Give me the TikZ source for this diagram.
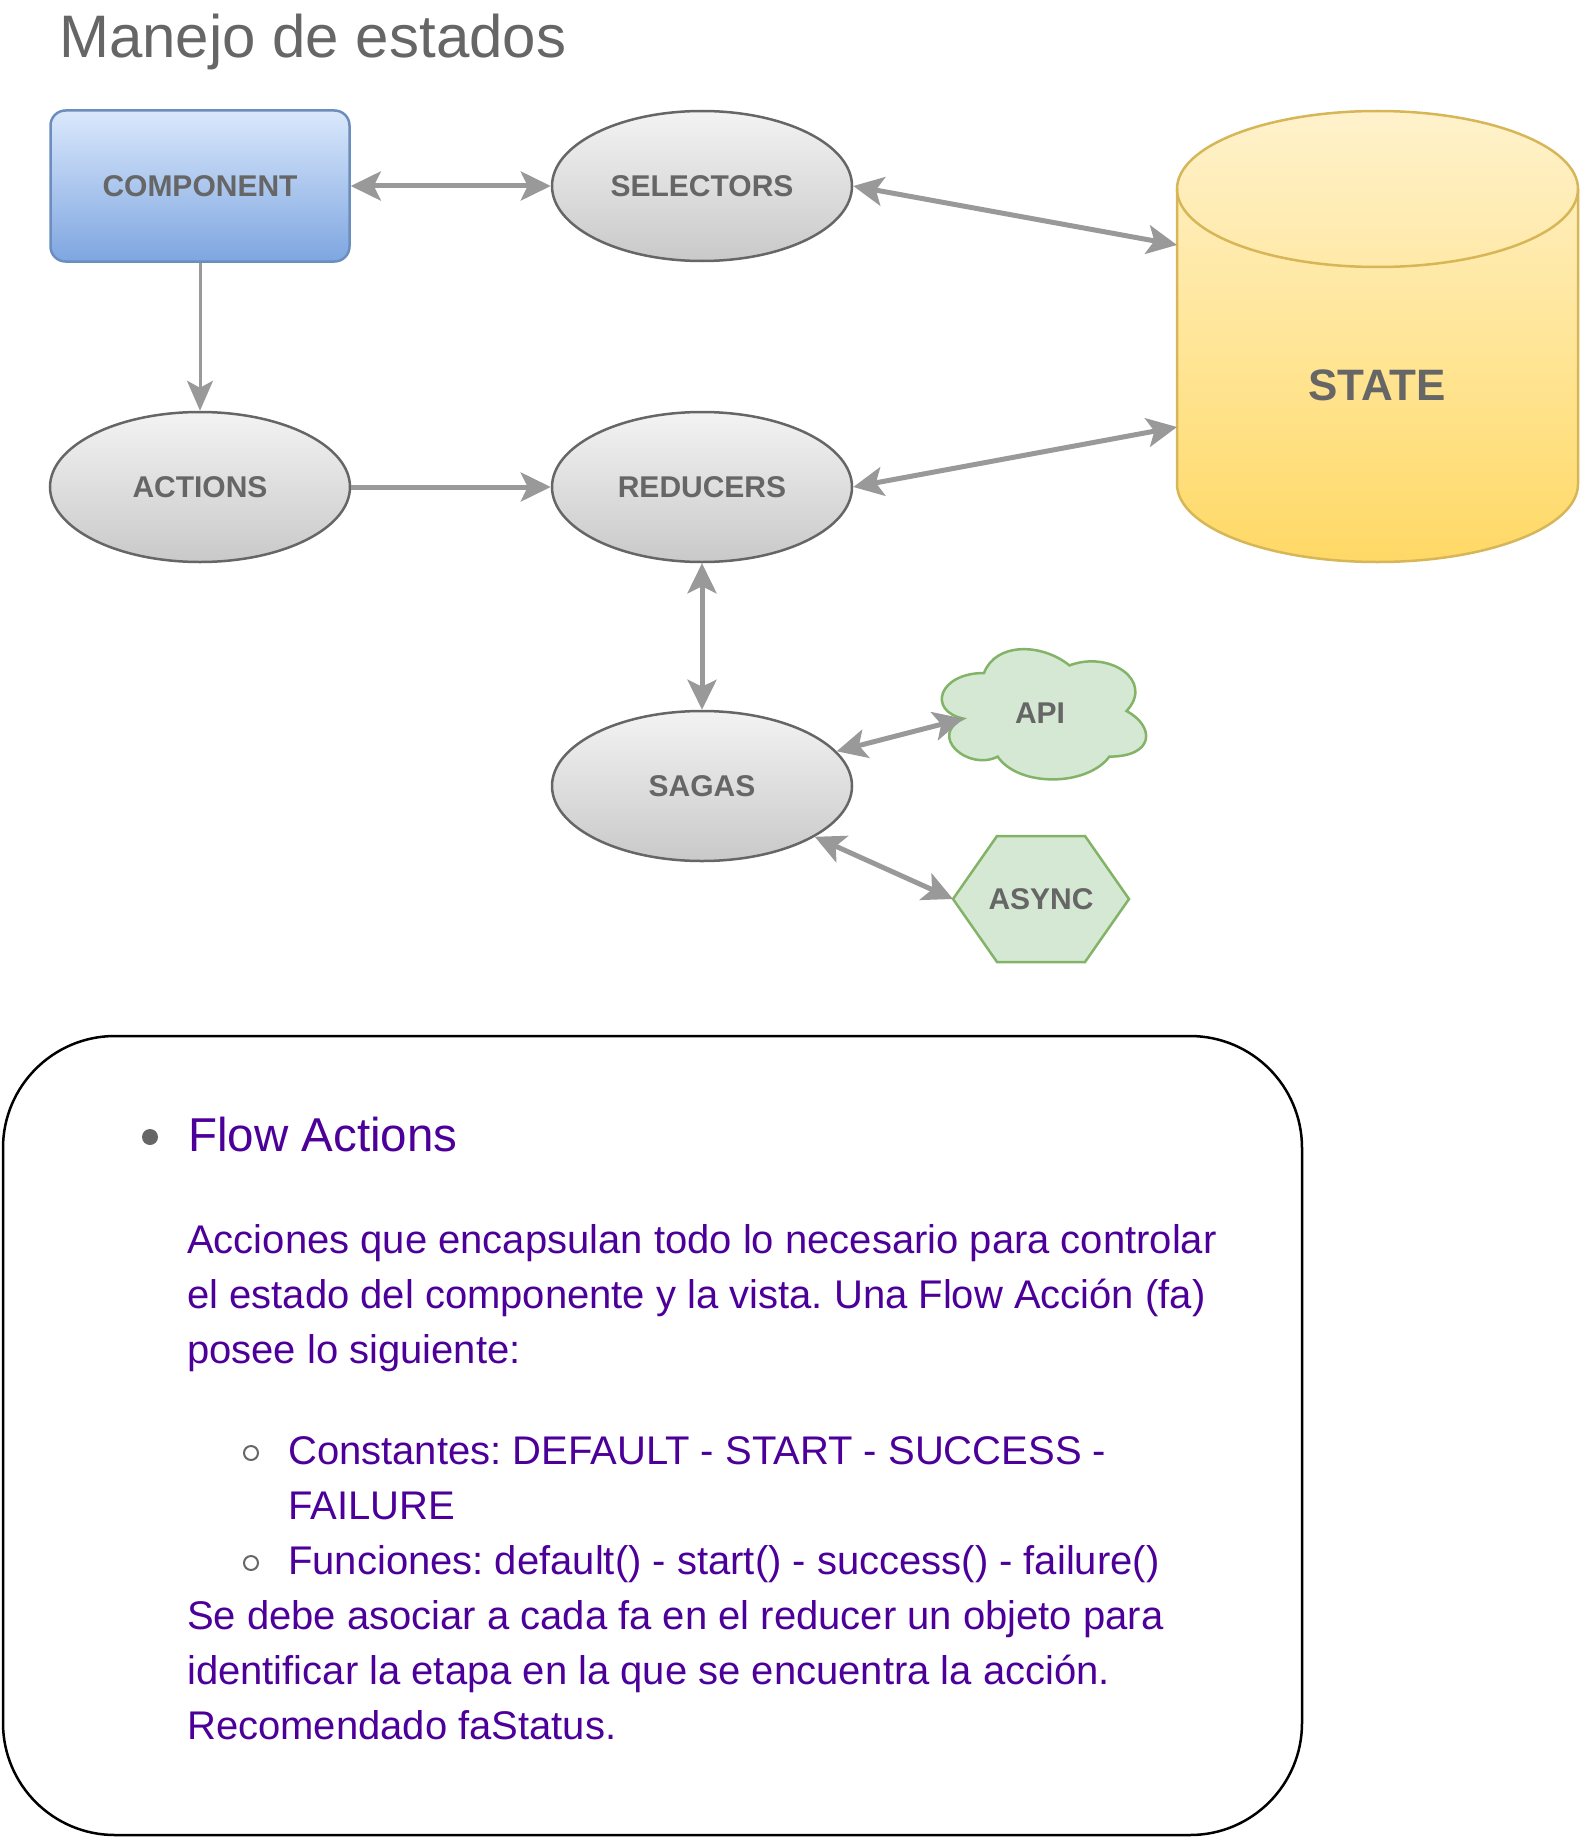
\documentclass[tikz,border=0pt]{standalone}
\usepackage{fontspec}
\setmainfont{Liberation Sans}
\usetikzlibrary{arrows.meta,shapes.geometric}
\frenchspacing

\definecolor{labelgray}{HTML}{666666}
\definecolor{linkgray}{HTML}{999999}
\definecolor{notepurple}{HTML}{4C0099}
\definecolor{blueTop}{HTML}{DAE8FC}
\definecolor{blueBot}{HTML}{7EA6E0}
\definecolor{blueLine}{HTML}{6C8EBF}
\definecolor{ovalTop}{HTML}{F3F3F3}
\definecolor{ovalBot}{HTML}{C9C9C9}
\definecolor{stateTop}{HTML}{FFF2CC}
\definecolor{stateBot}{HTML}{FFD966}
\definecolor{stateLine}{HTML}{D6B656}
\definecolor{greenFill}{HTML}{D5E8D4}
\definecolor{greenLine}{HTML}{82B366}

\tikzset{
	tag/.style={font=\bfseries\fontsize{30}{36}\selectfont, text=labelgray, inner sep=0},
	oval/.style={tag, ellipse, draw=labelgray, line width=2.5, top color=ovalTop, bottom color=ovalBot, minimum width=300, minimum height=150},
	greenshape/.style={draw=greenLine, fill=greenFill, line width=2.5},
	link/.style={draw=linkgray, line width=5},
	notes/.style={anchor=base west, inner sep=0, text=notepurple, font=\fontsize{40}{48}\selectfont},
}

\begin{document}
\begin{tikzpicture}[x=1pt, y=1pt, >={Stealth[length=30pt, width=29pt, inset=7pt]}]
			%%%%% START %%%%%
			\useasboundingbox (0, 0) rectangle (1580, -1838);
			
			\node[anchor=base west, inner sep=0, text=labelgray, font=\fontsize{60}{72}\selectfont] (title) at (59, -58) {Manejo de estados};
			
			\node[tag, draw=blueLine, line width=2.5, rounded corners=15, top color=blueTop, bottom color=blueBot, minimum width=299, minimum height=151] (component) at (200, -186) {COMPONENT};
			\node[oval] (selectors) at (702, -186) {SELECTORS};
			\node[oval] (actions) at (200, -487) {ACTIONS};
			\node[oval] (reducers) at (702, -487) {REDUCERS};
			\node[oval] (sagas) at (702, -786) {SAGAS};
			
			\draw[draw=stateLine, line width=2.5, top color=stateTop, bottom color=stateBot] (1177, -189) -- (1177, -484) arc (180:360:200.5 and 78) -- (1578, -189) arc (0:180:200.5 and 78) -- cycle;
			\draw[draw=stateLine, line width=2.5] (1177, -189) arc (180:360:200.5 and 78);
			\node[tag, font=\bfseries\fontsize{44}{52}\selectfont] (state) at (1377, -385) {STATE};
			\coordinate (stTop) at (1177, -245);
			\coordinate (stBot) at (1177, -427);
			
			\begin{scope}[shift={(927pt, -635pt)}, x=228pt, y=-152pt]
				\draw[greenshape] (0.25, 0.25) .. controls (0.05, 0.25) and (0, 0.5) .. (0.16, 0.55)
					.. controls (0, 0.66) and (0.18, 0.9) .. (0.31, 0.8)
					.. controls (0.4, 1) and (0.7, 1) .. (0.8, 0.8)
					.. controls (1, 0.8) and (1, 0.6) .. (0.875, 0.5)
					.. controls (1, 0.3) and (0.8, 0.1) .. (0.625, 0.2)
					.. controls (0.5, 0.05) and (0.3, 0.05) .. (0.25, 0.25) -- cycle;
				\coordinate (apiIn) at (0.16, 0.55);
			\end{scope}
			\node[tag] (api) at (1040, -713) {API};
			
			\draw[greenshape] (953, -899) -- (997, -836) -- (1085, -836) -- (1129, -899) -- (1085, -962) -- (997, -962) -- cycle;
			\coordinate (asyncL) at (953, -899);
			\node[tag] (async) at (1041, -899) {ASYNC};
			
			\draw[link, <->] (component.east) -- (selectors.west);
			\draw[link, <->] (selectors.east) -- (stTop);
			\draw[link, ->, line width=3, >={Stealth[length=30pt, width=26pt, inset=7pt]}] (component.south) -- (actions.north);
			\draw[link, ->] (actions.east) -- (reducers.west);
			\draw[link, <->] (reducers.east) -- (stBot);
			\draw[link, <->] (reducers.south) -- (sagas.north);
			\draw[link, <->] (sagas) -- (apiIn);
			\draw[link, <->] (sagas) -- (asyncL);
			
			\draw[line width=2.5, rounded corners=112] (3, -1036) rectangle (1302, -1835);
			
			\fill[labelgray] (150, -1137) circle (8);
			\node[notes, font=\fontsize{47.5}{56}\selectfont] (flow) at (188, -1151) {Flow Actions};
			\node[notes] (para1) at (187, -1253) {Acciones que encapsulan todo lo necesario para controlar};
			\node[notes] (para2) at (187, -1308) {el estado del componente y la vista. Una Flow Acción (fa)};
			\node[notes] (para3) at (187, -1363) {posee lo siguiente:};
			
			\draw[labelgray, line width=2] (251, -1453) circle (7);
			\node[notes] (const1) at (288, -1464) {Constantes: DEFAULT - START - SUCCESS -};
			\node[notes] (const2) at (288, -1519) {FAILURE};
			\draw[labelgray, line width=2] (251, -1563) circle (7);
			\node[notes] (funcs) at (288, -1574) {Funciones: default() - start() - success() - failure()};
			
			\node[notes] (last1) at (187, -1629) {Se debe asociar a cada fa en el reducer un objeto para};
			\node[notes] (last2) at (187, -1684) {identificar la etapa en la que se encuentra la acción.};
			\node[notes] (last3) at (187, -1739) {Recomendado faStatus.};
			%%%%% END %%%%%
		\end{tikzpicture}
\end{document}
